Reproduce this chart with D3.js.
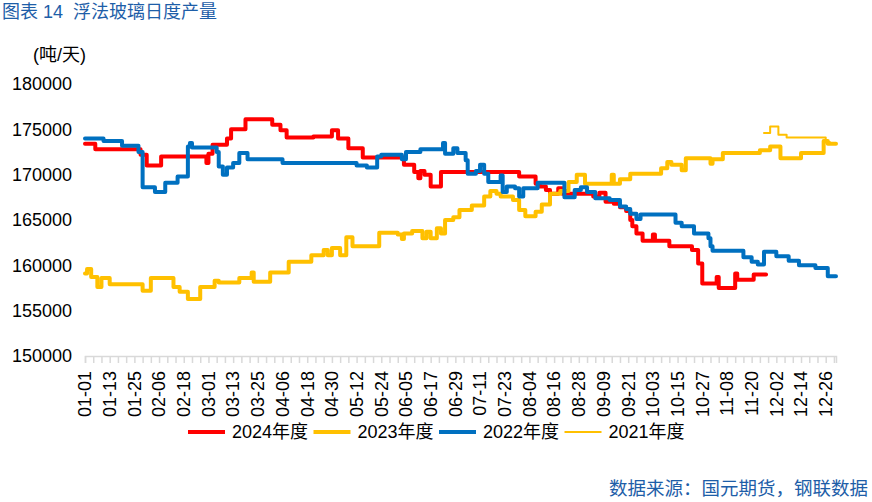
<!DOCTYPE html>
<html>
<head>
<meta charset="utf-8">
<script src="https://cdn.jsdelivr.net/npm/d3@7"></script>
<style>
    body { margin: 0; background: #fff; }
    text { font-family: "Liberation Sans", "Noto Sans CJK SC", sans-serif; }
</style>
</head>
<body>
<script>
    // change points of each daily series (value holds until the next date)
    var dates2024 = ["01-01","01-06","01-28","01-31","02-07","02-29","03-01","03-03","03-10","03-12","03-19","04-01","04-05","04-08","04-21","04-30","05-03","05-08","05-15","06-04","06-09","06-11","06-12","06-14","06-17","06-22","07-30","08-07","08-09","08-12","08-14","08-18","08-20","09-04","09-07","09-10","09-14","09-17","09-20","09-22","09-23","09-25","09-28","10-03","10-04","10-11","10-22","10-25","10-27","11-03","11-04","11-12","11-13","11-21","11-27"];
    var values2024 = [173400,172800,172200,171000,172000,171300,172300,173300,174000,175000,176100,175500,174900,174100,174200,174900,174000,172900,171900,171100,170300,169600,170400,170000,168700,170300,169800,169000,168700,168300,167900,168500,167900,167600,168000,167000,166800,166400,166000,165000,164300,163500,162700,163400,162700,162100,161700,160200,158000,158700,157500,159100,158400,159000,159000];

    var dates2023 = ["01-01","01-02","01-04","01-07","01-09","01-13","01-29","02-02","02-13","02-16","02-20","02-26","03-04","03-06","03-16","03-22","03-23","03-31","04-09","04-20","04-26","04-28","04-30","05-04","05-07","05-10","05-23","06-01","06-03","06-04","06-08","06-13","06-15","06-17","06-20","06-22","06-24","06-28","07-01","07-07","07-13","07-16","07-19","07-21","07-27","07-30","08-02","08-07","08-10","08-14","08-19","08-23","08-27","08-31","09-13","09-14","09-17","09-22","10-07","10-10","10-12","10-17","10-19","10-31","11-01","11-06","11-24","11-29","12-04","12-14","12-25","12-27","12-31"];
    var values2023 = [159100,159600,158700,157600,158600,157900,157200,158600,157600,157100,156300,157600,158300,158100,158600,159200,158200,159200,160400,161100,161700,161100,161900,161100,163100,162100,163600,163400,162900,163500,163800,163000,163700,163000,164100,163500,165000,165300,166100,166600,167600,168200,167900,167600,167200,166100,165400,165900,166700,167900,168200,169200,170000,169000,170000,169000,169500,170100,170700,171400,171100,170500,171800,171200,171700,172400,172700,173100,171800,172400,173700,173400,173400];

    var dates2022 = ["01-01","01-10","01-19","01-27","01-29","02-04","02-09","02-15","02-20","02-21","02-22","03-05","03-06","03-08","03-10","03-13","03-16","03-20","04-06","05-12","05-17","05-22","05-24","06-03","06-05","06-12","06-23","06-24","06-28","06-30","07-04","07-05","07-09","07-11","07-13","07-15","07-21","07-22","07-24","07-28","07-30","08-01","08-08","08-21","08-26","08-29","09-01","09-05","09-12","09-17","09-20","09-22","09-25","09-27","10-14","10-17","10-23","10-30","10-31","11-01","11-16","11-20","11-23","11-26","12-02","12-08","12-13","12-21","12-27","12-31"];
    var values2022 = [174000,173700,173200,172500,168600,168100,169100,169800,173100,173500,173000,172500,170900,170000,170800,171300,172400,171700,171300,171000,170800,172000,172200,171700,172500,172800,173500,172300,172900,172400,171600,170100,170400,171100,170100,169200,169900,168100,168700,168500,167600,168500,169100,167500,168300,168600,168100,167400,167200,166500,166200,165700,165100,165600,164700,164300,163500,163000,162100,161600,160900,160400,160100,161500,161000,160500,160000,159700,158800,158800];

    var dates2021 = ["11-26","11-29","12-03","12-07","12-26","12-28","12-31"];
    var values2021 = [174600,175300,174400,174100,173600,173400,173400];

    var seriesNames = ["2024年度", "2023年度", "2022年度", "2021年度"];
    var seriesColors = ["#ff0000", "#ffc000", "#0070c0", "#ffc000"];
    var seriesWidths = [4, 4, 4, 2];

    var xTickLabels = ["01-01","01-13","01-25","02-06","02-18","03-01","03-13","03-25","04-06","04-18","04-30","05-12","05-24","06-05","06-17","06-29","07-11","07-23","08-04","08-16","08-28","09-09","09-21","10-03","10-15","10-27","11-08","11-20","12-02","12-14","12-26"];
    var yTicks = [150000, 155000, 160000, 165000, 170000, 175000, 180000];

    var parseDay = d3.timeParse("%Y-%m-%d");
    var toDate = function(s) { return parseDay("2024-" + s); };

    var series = [
        {dates: dates2024, values: values2024},
        {dates: dates2023, values: values2023},
        {dates: dates2022, values: values2022},
        {dates: dates2021, values: values2021}
    ].map(function(s, i) {
        return {
            name: seriesNames[i],
            color: seriesColors[i],
            width: seriesWidths[i],
            points: s.dates.map(function(d, j) {
                return {date: toDate(d), value: s.values[j]};
            })
        };
    });

    var width = 872, height = 502;

    var svg = d3.select("body")
        .append("svg")
        .attr("width", width)
        .attr("height", height);

    var x = d3.scaleTime()
        .domain([toDate("01-01"), toDate("12-31")])
        .range([85, 836]);

    var y = d3.scaleLinear()
        .domain([150000, 180000])
        .range([356, 84]);

    // title
    svg.append("text")
        .attr("x", 2)
        .attr("y", 18)
        .attr("font-size", 18)
        .attr("fill", "#1e5ea8")
        .style("white-space", "pre")
        .text("图表 14  浮法玻璃日度产量");

    svg.append("text")
        .attr("x", 33)
        .attr("y", 61)
        .attr("font-size", 18)
        .attr("fill", "#000")
        .text("(吨/天)");

    // y tick labels, no axis line
    svg.append("g")
        .selectAll("text")
        .data(yTicks)
        .enter().append("text")
        .attr("x", 72)
        .attr("y", function(d) { return y(d); })
        .attr("dy", "0.35em")
        .attr("text-anchor", "end")
        .attr("font-size", 18)
        .attr("fill", "#000")
        .text(function(d) { return d; });

    // x axis: small ticks every 4 days, labels every 12
    var minorTicks = d3.timeDay.range(toDate("01-01"), d3.timeDay.offset(toDate("12-31"), 1), 4);
    var xAxis = d3.axisBottom(x)
        .tickValues(minorTicks)
        .tickSize(7)
        .tickFormat("");

    var gx = svg.append("g")
        .attr("transform", "translate(0,356)")
        .call(xAxis);
    gx.select(".domain")
        .attr("stroke", "#d9d9d9")
        .attr("stroke-width", 1.5);
    gx.selectAll(".tick line")
        .attr("stroke", "#d9d9d9")
        .attr("stroke-width", 1.5);

    svg.append("g")
        .selectAll("text")
        .data(xTickLabels)
        .enter().append("text")
        .attr("transform", function(d) {
            return "translate(" + x(toDate(d)) + ",371) rotate(-90)";
        })
        .attr("dy", "0.35em")
        .attr("text-anchor", "end")
        .attr("font-size", 18)
        .attr("fill", "#000")
        .text(function(d) { return d; });

    var line = d3.line()
        .curve(d3.curveStepAfter)
        .x(function(d) { return x(d.date); })
        .y(function(d) { return y(d.value); });

    svg.append("g")
        .selectAll("path")
        .data(series)
        .enter().append("path")
        .attr("fill", "none")
        .attr("stroke", function(d) { return d.color; })
        .attr("stroke-width", function(d) { return d.width; })
        .attr("stroke-linejoin", "round")
        .attr("stroke-linecap", "round")
        .attr("d", function(d) { return line(d.points); });

    // legend
    var legend = svg.append("g")
        .selectAll("g")
        .data(series)
        .enter().append("g")
        .attr("transform", function(d, i) {
            return "translate(" + (188 + i * 125.5) + ",432)";
        });
    legend.append("line")
        .attr("x1", 0)
        .attr("x2", 37)
        .attr("stroke", function(d) { return d.color; })
        .attr("stroke-width", function(d) { return d.width; });
    legend.append("text")
        .attr("x", 44)
        .attr("dy", "0.35em")
        .attr("font-size", 18)
        .attr("fill", "#000")
        .text(function(d) { return d.name; });

    svg.append("text")
        .attr("x", 868)
        .attr("y", 495)
        .attr("text-anchor", "end")
        .attr("font-size", 18.5)
        .attr("fill", "#1e5ea8")
        .text("数据来源：国元期货，钢联数据");
</script>
</body>
</html>
